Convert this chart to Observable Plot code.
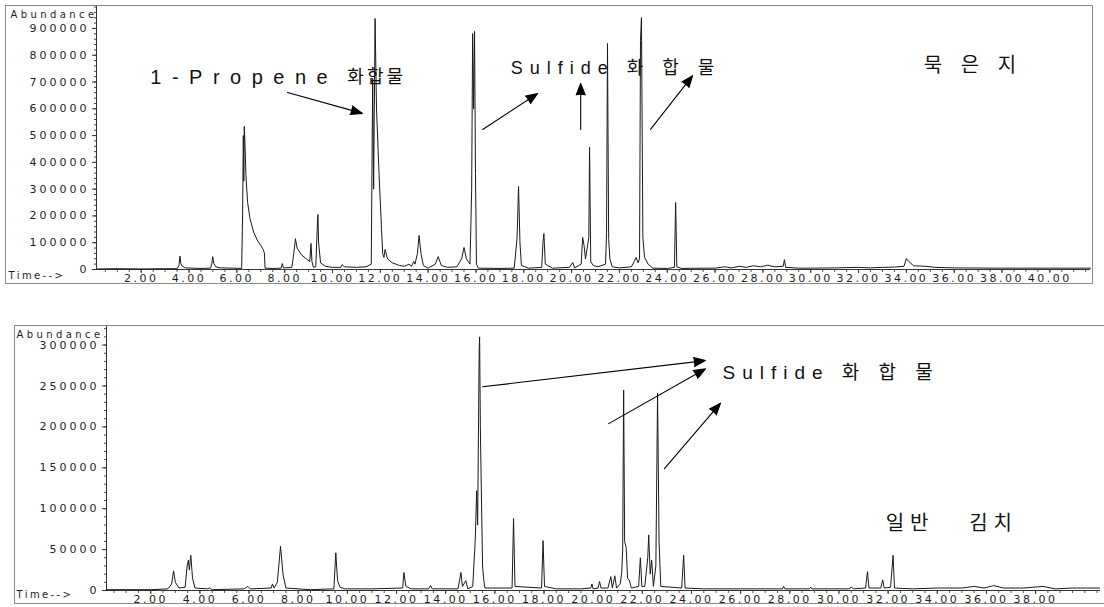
<!DOCTYPE html>
<html><head><meta charset="utf-8">
<script src="https://cdn.jsdelivr.net/npm/d3@7"></script>
<script src="https://cdn.jsdelivr.net/npm/@observablehq/plot@0.6"></script>
<style>
body{margin:0;background:#fff;}
#wrap{position:relative;width:1104px;height:607px;overflow:hidden;background:#fff;}
#wrap svg{position:absolute;left:0;}
.box{position:absolute;border:1px solid #8a8a8a;pointer-events:none;}
</style></head><body><div id="wrap"></div>
<script>
// ---------- data (retention time in min, abundance in thousands) ----------
const topTime = [0.15,1.0,2.0,3.0,3.5,3.58,3.62,3.66,3.72,3.85,4.5,4.9,4.95,4.99,5.04,5.12,5.3,5.8,
  6.2,6.24,6.27,6.29,6.31,6.34,6.38,6.45,6.55,6.7,6.85,7.0,7.1,7.15,7.18,7.5,7.85,7.9,7.95,
  8.3,8.38,8.45,8.52,8.7,8.9,9.05,9.1,9.14,9.2,9.3,9.36,9.39,9.42,9.5,9.7,10.0,10.35,10.4,10.5,
  11.0,11.4,11.62,11.68,11.72,11.78,11.84,11.95,12.05,12.1,12.15,12.2,12.3,12.5,12.8,13.0,13.2,
  13.3,13.4,13.45,13.55,13.62,13.7,13.8,14.0,14.3,14.42,14.55,14.8,15.2,15.4,15.5,15.6,15.75,
  15.82,15.86,15.9,15.94,15.98,16.02,16.1,17.0,17.6,17.72,17.78,17.84,17.9,18.2,18.75,18.8,18.84,
  18.9,19.2,19.9,20.05,20.12,20.4,20.46,20.52,20.58,20.72,20.75,20.8,20.9,21.1,21.42,21.46,21.5,
  21.55,21.6,21.7,22.0,22.5,22.62,22.7,22.78,22.84,22.88,22.92,22.98,23.05,23.2,23.4,24.0,24.3,
  24.35,24.4,24.6,25.5,26.0,26.4,26.7,27.0,27.3,27.6,27.9,28.2,28.5,28.85,28.9,28.95,29.5,30.0,
  31.0,32.0,32.5,33.0,33.5,33.9,34.0,34.1,34.3,34.8,35.2,36.0,38.0,40.0,41.7];
const topAbund = [2,3,2,3,3,15,50,22,12,6,4,5,20,48,22,10,6,5,
  4,200,500,330,534,470,350,250,190,140,110,90,75,62,5,4,5,22,6,
  8,60,115,80,55,40,30,97,30,8,10,150,205,100,25,12,8,8,18,10,
  8,10,20,713,300,937,600,350,150,60,45,75,40,25,15,12,20,
  12,30,20,60,127,60,15,5,20,48,15,8,10,40,82,40,20,
  300,881,600,889,358,20,5,4,5,120,310,100,15,5,8,100,134,
  20,5,8,26,6,20,120,90,40,120,456,30,15,10,20,134,844,
  112,40,10,6,10,30,45,25,40,855,941,120,45,20,5,4,8,
  250,10,4,5,5,10,6,12,8,14,10,16,10,12,37,8,5,5,
  6,8,6,8,9,12,41,30,14,12,8,6,5,5,5];

const botTime = [0.2,1.0,2.0,2.7,2.85,2.93,3.0,3.15,3.4,3.48,3.53,3.57,3.63,3.7,3.8,4.3,4.4,4.5,
  5.8,5.95,6.05,6.9,6.95,7.02,7.15,7.28,7.38,7.5,8.5,9.45,9.53,9.6,9.7,9.9,11.0,12.25,12.3,12.38,
  12.6,13.3,13.38,13.45,14.5,14.62,14.68,14.82,14.9,15.1,15.2,15.26,15.3,15.36,15.38,15.41,15.46,
  15.5,15.55,15.6,16.7,16.76,16.82,17.9,17.96,18.02,18.5,19.5,19.9,19.95,20.0,20.2,20.26,20.32,
  20.6,20.72,20.78,20.88,20.95,21.1,21.16,21.2,21.24,21.28,21.34,21.4,21.48,21.55,21.85,21.92,
  21.98,22.1,22.22,22.26,22.32,22.38,22.45,22.55,22.62,22.68,22.75,23.6,23.68,23.74,24.5,26.0,
  27.0,27.7,27.75,27.8,28.8,28.85,28.9,30.4,30.5,30.6,31.08,31.16,31.22,31.7,31.78,31.84,32.1,
  32.2,32.26,33.0,34.0,35.0,35.5,35.9,36.3,36.7,37.5,38.3,38.8,39.5,40.6];
const botAbund = [1,1,1,2,8,24,10,3,4,30,37,25,43,15,3,2,3,1,
  2,5,2,3,8,3,10,54,20,3,1,2,46,12,4,2,2,3,22,5,
  2,2,6,2,2,22,5,12,2,5,60,122,80,290,310,200,102,
  30,12,3,3,88,5,3,61,5,2,2,3,8,2,3,11,3,
  3,17,3,18,3,8,22,50,245,60,53,15,12,3,5,40,
  5,5,40,68,20,37,5,30,241,60,5,3,43,3,2,2,
  2,2,5,2,2,4,2,2,4,2,3,23,3,3,13,3,4,
  43,3,2,3,3,5,3,6,3,3,5,2,3,3];

const topYTicks = [0,100,200,300,400,500,600,700,800,900];
const botYTicks = [0,50,100,150,200,250,300];
const topXTicks = [2,4,6,8,10,12,14,16,18,20,22,24,26,28,30,32,34,36,38,40];
const botXTicks = [2,4,6,8,10,12,14,16,18,20,22,24,26,28,30,32,34,36,38];

const topNotes = [
  {t: 2.38, a: 717, label: "1-Propene"},
  {t: 10.62, a: 717, label: "화합물"},
  {t: 17.45, a: 750, label: "Sulfide 화 합 물"},
  {t: 34.73, a: 762, label: "묵 은 지"}
];
const topArrows = [
  {x1: 8.12, y1: 661, x2: 11.25, y2: 583},
  {x1: 16.28, y1: 523, x2: 18.58, y2: 657},
  {x1: 20.38, y1: 523, x2: 20.38, y2: 695},
  {x1: 23.3, y1: 523, x2: 25.06, y2: 724}
];
const botNotes = [
  {t: 25.26, a: 266, label: "Sulfide 화 합 물"},
  {t: 31.9, a: 82, label: "일반\u00a0\u00a0\u00a0김치"}
];
const botArrows = [
  {x1: 15.5, y1: 249, x2: 24.57, y2: 281},
  {x1: 20.63, y1: 204, x2: 24.57, y2: 271},
  {x1: 22.9, y1: 149, x2: 25.18, y2: 229}
];

const topData = topTime.map((t, i) => ({t, a: topAbund[i]}));
const botData = botTime.map((t, i) => ({t, a: botAbund[i]}));

const annoFont = '"Liberation Sans", "Noto Sans CJK KR", sans-serif';
const baseStyle = {fontFamily: '"DejaVu Sans", sans-serif', fontSize: "11px", letterSpacing: "3px", color: "#1e1e1e", background: "transparent", overflow: "visible"};

function chromatogram(opts) {
  const {data, height, mL, mR, mT, mB, xDom, yDom, yTicks, yMinor, xTicks, notes, arrows, abDx, abDy, tmDx, tmDy, noteSpacing} = opts;
  const textMarks = [
    Plot.text(["Abundance"], {frameAnchor: "top-left", dx: abDx, dy: abDy, textAnchor: "start", fontSize: 10}),
    Plot.text(["Time-->"], {frameAnchor: "bottom-left", dx: tmDx, dy: tmDy, textAnchor: "start", fontSize: 10})
  ];
  notes.forEach(n => textMarks.push(Plot.text([n], {x: "t", y: "a", text: "label", textAnchor: "start", fontSize: n.size || 19, fontFamily: annoFont, fill: "#111"})));
  const svg = Plot.plot({
    width: 1104, height,
    marginLeft: mL, marginRight: mR, marginTop: mT, marginBottom: mB,
    x: {domain: xDom},
    y: {domain: yDom},
    style: baseStyle,
    marks: [
      Plot.axisY(yMinor, {tickSize: 2, tickFormat: () => "", label: null, stroke: "#444"}),
      Plot.axisY(yTicks, {tickSize: 4, tickPadding: 3, tickFormat: d => String(d * 1000), label: null, stroke: "#333"}),
      Plot.axisX(d3.range(0.5, xDom[1], 0.5), {tickSize: 3, tickFormat: () => "", label: null, stroke: "#555"}),
      Plot.axisX(xTicks, {tickSize: 4, tickPadding: 1, tickFormat: d => d.toFixed(2), label: null, stroke: "#333"}),
      Plot.ruleX([xDom[0]], {stroke: "#333"}),
      Plot.ruleY([0], {stroke: "#333"}),
      Plot.line(data, {x: "t", y: "a", stroke: "#1a1a1a", strokeWidth: 1}),
      Plot.arrow(arrows, {x1: "x1", y1: "y1", x2: "x2", y2: "y2", headLength: 17, headAngle: 42, fill: "#000", stroke: "#000", strokeWidth: 1.1}),
      ...textMarks
    ]
  });
  // per-text letter spacing
  const groups = svg.querySelectorAll('g[aria-label="text"]');
  groups.forEach((g, i) => { g.style.letterSpacing = noteSpacing[i] + "px"; });
  svg.querySelectorAll('g[aria-label="x-axis tick label"]').forEach(g => g.style.letterSpacing = "2.5px");
  return svg;
}

const wrap = document.getElementById("wrap");

const topSvg = chromatogram({
  data: topData, height: 290, mL: 96, mR: 14, mT: 6, mB: 21,
  xDom: [0.13, 41.7], yDom: [0, 982],
  yTicks: topYTicks, yMinor: d3.range(0, 981, 20), xTicks: topXTicks,
  notes: topNotes.map((n, i) => ({...n, size: [20, 18, 18, 20][i]})), arrows: topArrows,
  abDx: -86, abDy: 4, tmDx: -88, tmDy: 9,
  noteSpacing: [3.4, 2.4, 10.5, 3, 7, 6.5]
});
topSvg.style.top = "0px";
wrap.appendChild(topSvg);

const botSvg = chromatogram({
  data: botData, height: 287, mL: 106, mR: 4, mT: 6, mB: 17,
  xDom: [0.2, 40.64], yDom: [0, 322.7],
  yTicks: botYTicks, yMinor: d3.range(0, 322, 10), xTicks: botXTicks,
  notes: botNotes.map((n, i) => ({...n, size: [19, 20][i]})), arrows: botArrows,
  abDx: -90, abDy: 4, tmDx: -90, tmDy: 7,
  noteSpacing: [3.4, 2.4, 7, 6]
});
botSvg.style.top = "320px";
wrap.appendChild(botSvg);

// outer frames of the two printouts
[[5, 5, 1086, 277], [14, 325, 1100, 277]].forEach(([l, t, w, h]) => {
  const d = document.createElement("div");
  d.className = "box";
  Object.assign(d.style, {left: l + "px", top: t + "px", width: w + "px", height: h + "px"});
  wrap.appendChild(d);
});
</script></body></html>
